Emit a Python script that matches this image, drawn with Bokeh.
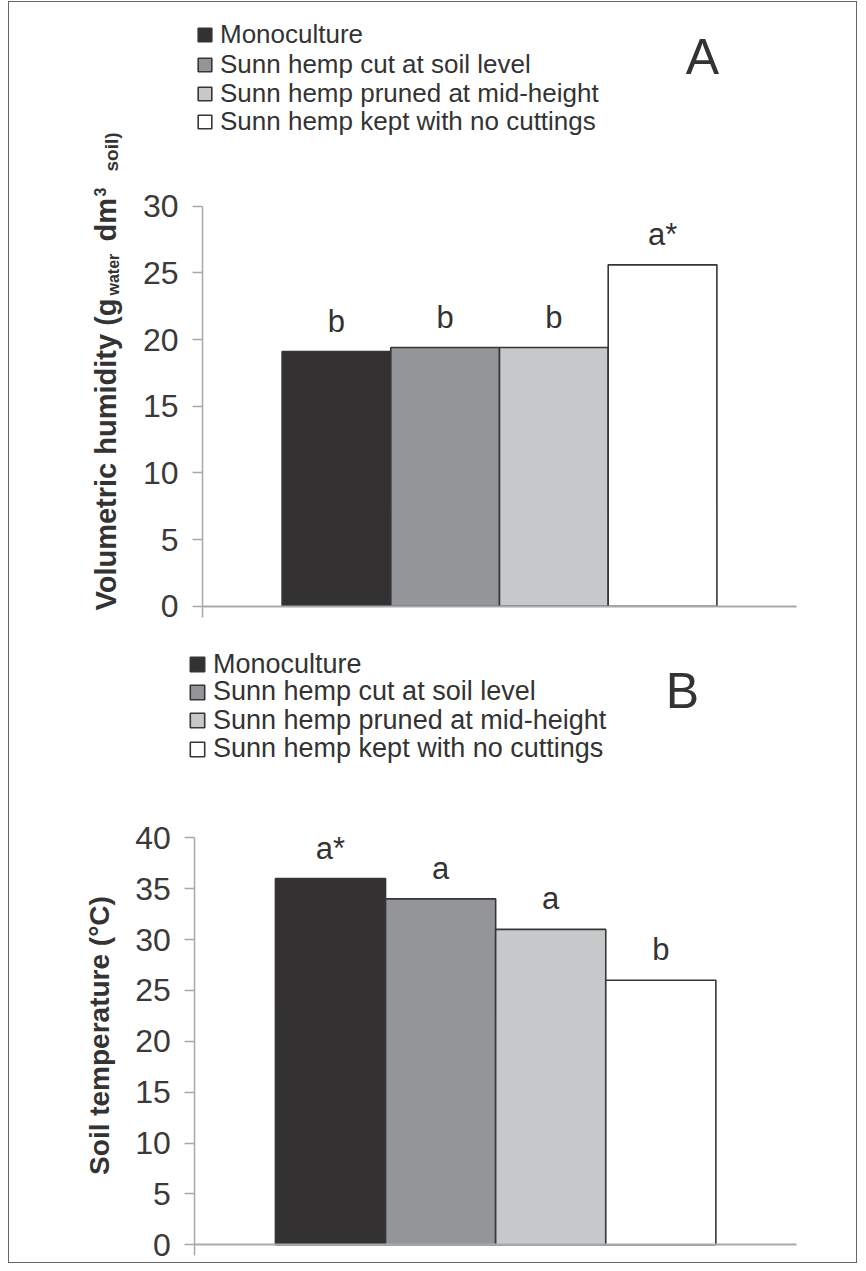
from bokeh.plotting import figure
from bokeh.models import (ColumnDataSource, Legend, LegendItem, Label, LabelSet,
                          FixedTicker, Range1d, LinearAxis)
from bokeh.layouts import column
from bokeh.core.properties import value
from bokeh.embed import file_html
from bokeh.resources import INLINE
import math

# ---------------- data ----------------
treatments = ["Monoculture", "Sunn hemp cut at soil level",
              "Sunn hemp pruned at mid-height", "Sunn hemp kept with no cuttings"]
humidity = [19.1, 19.4, 19.4, 25.6]
humidity_letters = ["b", "b", "b", "a*"]
temperature = [36, 34, 31, 26]
temperature_letters = ["a*", "a", "a", "b"]
humidity_ticks = [0, 5, 10, 15, 20, 25, 30]
temperature_ticks = [0, 5, 10, 15, 20, 25, 30, 35, 40]
bar_colors = ["#333132", "#939598", "#c6c8ca", "#ffffff"]

FONT = "Liberation Sans"
TXT = "#333333"
AXC = "#a7a9ac"
BAR_W = 0.183
centers = [0.5 + (i - 1.5) * BAR_W for i in range(4)]

FIG_LEFT = 9      # page x of figure left edge
FIG_W = 847
MB_LEFT = 75


class Panel:
    """Figure whose frame covers almost the whole canvas; the y axis is
    pinned at x=0 with fixed_location and limited with bounds."""

    def __init__(self, fig_top, height, mb_bottom, axis_px, right_px,
                 ytop, ytop_px, ybot_px, ticks, axis_low):
        self.frame_left = FIG_LEFT + MB_LEFT
        self.frame_right = FIG_LEFT + FIG_W
        self.frame_top = fig_top + 10
        self.frame_bottom = fig_top + height - mb_bottom
        self.axis_px = axis_px
        self.xs = right_px - axis_px            # px per x unit
        self.ys = (ybot_px - ytop_px) / ytop    # px per y unit
        self.y0_px = ybot_px
        x0 = self.dx(self.frame_left)
        x1 = self.dx(self.frame_right)
        y0 = self.dy(self.frame_bottom)
        y1 = self.dy(self.frame_top)
        p = figure(width=FIG_W, height=height, output_backend="svg",
                   toolbar_location=None, x_range=Range1d(x0, x1),
                   y_range=Range1d(y0, y1), min_border_top=10,
                   min_border_bottom=mb_bottom, min_border_left=MB_LEFT,
                   min_border_right=0, x_axis_type=None, y_axis_type=None)
        p.outline_line_color = None
        p.grid.visible = False
        ya = LinearAxis(ticker=FixedTicker(ticks=ticks), fixed_location=0,
                        bounds=(axis_low, ytop))
        ya.minor_tick_line_color = None
        ya.major_tick_in = 0
        ya.major_tick_out = 10
        ya.major_tick_line_color = AXC
        ya.major_tick_line_width = 1.5
        ya.axis_line_color = AXC
        ya.axis_line_width = 1.5
        ya.major_label_standoff = 14
        ya.major_label_text_font = FONT
        ya.major_label_text_font_size = "32px"
        ya.major_label_text_color = "#3a3a3a"
        p.add_layout(ya, "left")
        xa = LinearAxis(ticker=FixedTicker(ticks=[]), fixed_location=0,
                        bounds=(0, 1))
        xa.axis_line_color = AXC
        xa.axis_line_width = 2
        xa.major_tick_line_color = None
        xa.minor_tick_line_color = None
        xa.major_label_text_font_size = "1px"
        p.add_layout(xa, "below")
        self.p = p

    def dx(self, px):
        return (px - self.axis_px) / self.xs

    def dy(self, py):
        return (self.y0_px - py) / self.ys

    def bars(self, values, letters, legend_left, row_centers, leg_font, glyph):
        p = self.p
        src = ColumnDataSource(dict(x=centers, top=values, color=bar_colors,
                                    name=treatments, lab=letters))
        r = p.vbar(x="x", top="top", bottom=0, width=BAR_W, fill_color="color",
                   line_color="#363636", line_width=1.6, source=src)
        p.add_layout(LabelSet(x="x", y="top", text="lab", source=src, y_offset=20,
                              text_align="center", text_baseline="alphabetic",
                              text_font=value(FONT), text_font_size="31px",
                              text_color=TXT))
        # one single-row legend per treatment, so rows sit where the reference has them
        for i in range(4):
            leg = Legend(items=[LegendItem(label=treatments[i], renderers=[r], index=i)],
                         location=(legend_left - self.frame_left,
                                   self.frame_bottom - (row_centers[i] + 15.5)),
                         orientation="vertical", glyph_width=glyph,
                         glyph_height=glyph, label_standoff=7, padding=0,
                         margin=0, spacing=0, border_line_color=None,
                         background_fill_alpha=0, label_text_font=FONT,
                         label_text_font_size=leg_font, label_text_color=TXT,
                         label_height=20)
            p.add_layout(leg)

    def label(self, text, px, py, size, bold=False, angle=0.0, align="left"):
        # (px, py) is the centre line of the text box
        self.p.add_layout(Label(x=self.dx(px), y=self.dy(py), text=text,
                                angle=angle, text_align=align,
                                text_baseline="middle", text_font=FONT,
                                text_font_style="bold" if bold else "normal",
                                text_font_size=size, text_color=TXT))


# ---------------- panel A ----------------
A = Panel(fig_top=2, height=627, mb_bottom=10, axis_px=202.0, right_px=796.0,
          ytop=30, ytop_px=205.7, ybot_px=605.7, ticks=humidity_ticks,
          axis_low=-0.81)
A.bars(humidity, humidity_letters, legend_left=196,
       row_centers=[34.5, 64.0, 93.0, 121.0], leg_font="26px", glyph=17)
A.label("A", 702, 56, "50px", align="center")
for txt, bx, sy, fs in [("Volumetric humidity (g", 105, 610, "29px"),
                        ("water", 113, 295, "16px"),
                        ("dm", 105, 241, "29px"),
                        ("3", 99, 196, "16px"),
                        ("soil)", 111, 171, "19px")]:
    A.label(txt, bx, sy, fs, bold=True, angle=math.pi / 2)

# ---------------- panel B ----------------
B = Panel(fig_top=629, height=633, mb_bottom=5, axis_px=194.3, right_px=796.0,
          ytop=40, ytop_px=837.3, ybot_px=1244.3, ticks=temperature_ticks,
          axis_low=-1.05)
B.bars(temperature, temperature_letters, legend_left=188,
       row_centers=[664.0, 691.5, 720.0, 748.5], leg_font="27px", glyph=18)
B.label("B", 682, 690, "50px", align="center")
B.label("Soil temperature (°C)", 99, 1035, "28px", bold=True,
        angle=math.pi / 2, align="center")

layout = column(A.p, B.p, spacing=0,
                styles={"border": "1px solid #666666", "margin-left": "8px",
                        "margin-top": "1px"})
open("out.html", "w").write(file_html(layout, INLINE))
